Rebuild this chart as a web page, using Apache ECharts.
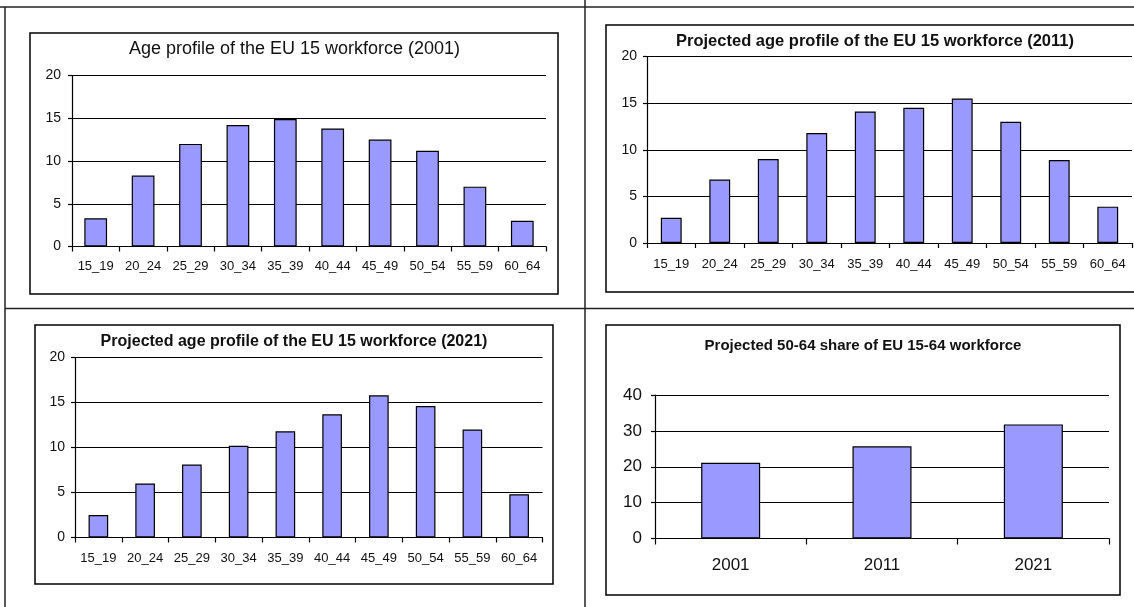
<!DOCTYPE html>
<html><head><meta charset="utf-8">
<script src="https://cdn.jsdelivr.net/npm/echarts@6/dist/echarts.min.js"></script>
<style>html,body{margin:0;padding:0;background:#fff}#c{width:1134px;height:607px}</style>
</head><body><div id="c"></div>
<script>
// ---- data ----
const ageGroups = ['15_19','20_24','25_29','30_34','35_39','40_44','45_49','50_54','55_59','60_64'];
const profile2001 = [3.3, 8.3, 12.0, 14.2, 14.9, 13.8, 12.5, 11.2, 7.0, 3.0];
const profile2011 = [2.7, 6.8, 9.0, 11.8, 14.1, 14.5, 15.5, 13.0, 8.9, 3.9];
const profile2021 = [2.5, 6.0, 8.1, 10.2, 11.8, 13.7, 15.8, 14.6, 12.0, 4.8];
const years = ['2001', '2011', '2021'];
const olderShare = [21.1, 25.7, 31.8];
const titles = [
  'Age profile of the EU 15 workforce (2001)',
  'Projected age profile of the EU 15 workforce (2011)',
  'Projected age profile of the EU 15 workforce (2021)',
  'Projected 50-64 share of EU 15-64 workforce'
];

const FONT = '"Liberation Sans", Arial, sans-serif';
const BAR = '#9999ff';
const INK = '#111';

function xAxis(gi, data, fs, margin, tickLen) {
  return {
    type: 'category', gridIndex: gi, data: data,
    axisLine: { show: true, lineStyle: { color: '#000', width: 1.2 } },
    axisTick: { show: true, interval: 0, length: tickLen, lineStyle: { color: '#000', width: 1.2 } },
    axisLabel: { interval: 0, color: INK, fontFamily: FONT, fontSize: fs, margin: margin },
    splitLine: { show: false }
  };
}
function yAxis(gi, max, step, fs, margin) {
  return {
    type: 'value', gridIndex: gi, min: 0, max: max, interval: step,
    axisLine: { show: true, lineStyle: { color: '#000', width: 1.2 } },
    axisTick: { show: true, length: 4, lineStyle: { color: '#000', width: 1.2 } },
    axisLabel: { color: INK, fontFamily: FONT, fontSize: fs, margin: margin },
    splitLine: { show: true, lineStyle: { color: '#000', width: 1.2 } }
  };
}
function bars(gi, data, w) {
  return {
    type: 'bar', xAxisIndex: gi, yAxisIndex: gi, data: data, barWidth: w,
    itemStyle: { color: BAR, borderColor: '#000', borderWidth: 1.2 },
    silent: true, animation: false
  };
}
function txt(x, y, text, size, weight) {
  return { type: 'text', x: x, y: y, z: 10,
    style: { text: text, fill: INK, font: weight + ' ' + size + 'px ' + FONT,
      textAlign: 'center', textVerticalAlign: 'middle', align: 'center', verticalAlign: 'middle' } };
}
function box(x, y, w, h) {
  return { type: 'rect', z: 0, shape: { x: x, y: y, width: w, height: h },
    style: { fill: 'none', stroke: '#000', lineWidth: 1.5 } };
}
function line(x1, y1, x2, y2) {
  return { type: 'line', z: 0, shape: { x1: x1, y1: y1, x2: x2, y2: y2 },
    style: { stroke: '#222', lineWidth: 1.5 } };
}

const chart = echarts.init(document.getElementById('c'), null, { renderer: 'canvas' });
chart.setOption({
  backgroundColor: '#fff',
  animation: false,
  grid: [
    { left: 72, top: 75.5, width: 474, height: 171 },
    { left: 647, top: 56.5, width: 485, height: 186.5 },
    { left: 75, top: 357.5, width: 467.5, height: 180 },
    { left: 655, top: 395, width: 454, height: 143.5 }
  ],
  xAxis: [
    xAxis(0, ageGroups, 13, 13, 5),
    xAxis(1, ageGroups, 13, 15, 5),
    xAxis(2, ageGroups, 13, 14, 5),
    xAxis(3, years, 17, 18, 6)
  ],
  yAxis: [
    yAxis(0, 20, 5, 14, 11),
    yAxis(1, 20, 5, 14, 10),
    yAxis(2, 20, 5, 14, 10),
    yAxis(3, 40, 10, 17, 13)
  ],
  series: [
    bars(0, profile2001, '48%'),
    bars(1, profile2011, '43%'),
    bars(2, profile2021, '42%'),
    bars(3, olderShare, '39%')
  ],
  graphic: [
    line(0, 7, 1134, 7),
    line(5, 7, 5, 607),
    line(585, 0, 585, 607),
    line(5, 308.5, 1134, 308.5),
    box(30, 33, 528, 261),
    box(606, 25, 540, 267),
    box(35, 325, 518, 259),
    box(606, 325, 514, 270),
    txt(294.5, 49, titles[0], 18, 'normal'),
    txt(875, 41, titles[1], 16.5, 'bold'),
    txt(294, 342, titles[2], 16, 'bold'),
    txt(863, 346, titles[3], 15, 'bold')
  ]
});
</script></body></html>
